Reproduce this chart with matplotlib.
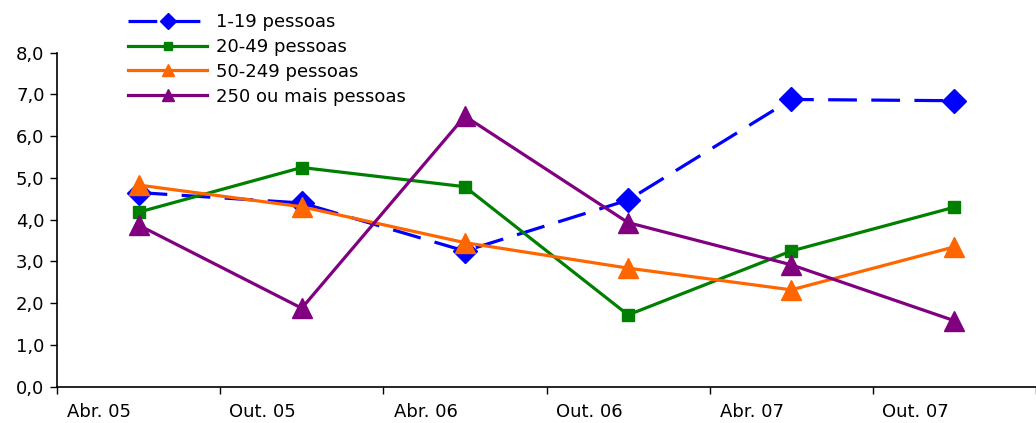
import numpy as np
import matplotlib
matplotlib.use("Agg")
import matplotlib.pyplot as plt
from matplotlib.ticker import FuncFormatter

periods = ["Abr. 05", "Out. 05", "Abr. 06", "Out. 06", "Abr. 07", "Out. 07"]
s_1_19 = [4.65, 4.40, 3.25, 4.47, 6.88, 6.85]
s_20_49 = [4.18, 5.25, 4.79, 1.72, 3.25, 4.30]
s_50_249 = [4.83, 4.31, 3.45, 2.84, 2.32, 3.35]
s_250 = [3.87, 1.88, 6.48, 3.93, 2.92, 1.58]

plt.rcParams["font.family"] = ["DejaVu Sans"]
FS = 13

fig = plt.figure(figsize=(10.36, 4.23), dpi=100)
ax = fig.add_axes([57 / 1036, 1 - 386.7 / 423, 1 - 57 / 1036, (386.7 - 52.7) / 423])
x = np.arange(len(periods))

ax.plot(x, s_1_19, color="#0000FF", lw=2.3, ls=(0, (9, 4.5)), marker="D", ms=12,
        label="1-19 pessoas")
ax.plot(x, s_20_49, color="#008000", lw=2.3, marker="s", ms=8.5, label="20-49 pessoas")
ax.plot(x, s_50_249, color="#FF6600", lw=2.3, marker="^", ms=14, label="50-249 pessoas")
ax.plot(x, s_250, color="#800080", lw=2.3, marker="^", ms=14, label="250 ou mais pessoas")

ax.set_xlim(-0.5, len(periods) - 0.5)
ax.set_ylim(0, 8)
ax.set_yticks(np.arange(0, 9, 1))
ax.yaxis.set_major_formatter(FuncFormatter(lambda v, p: f"{v:.1f}".replace(".", ",")))
ax.tick_params(axis="y", direction="out", length=5, width=1, labelsize=FS, pad=4)

# category labels sit left of the data points, tick marks on the boundaries
ax.set_xticks(x - 0.24)
ax.set_xticklabels(periods)
ax.tick_params(axis="x", which="major", length=0, labelsize=FS, pad=11.5)
ax.set_xticks(np.arange(-0.5, len(periods), 1), minor=True)
ax.tick_params(axis="x", which="minor", direction="out", length=5, width=1)

for side in ["top", "right"]:
    ax.spines[side].set_visible(False)
for side in ["left", "bottom"]:
    ax.spines[side].set_linewidth(1.2)

ax.legend(loc="upper left", bbox_to_anchor=(128 / 1036, 1 - 13 / 423),
          bbox_transform=fig.transFigure, frameon=False, fontsize=FS,
          handlelength=4.4, handletextpad=0.45, labelspacing=0.38,
          borderpad=0, borderaxespad=0, markerscale=0.65)

fig.savefig("out.png", dpi=100)
